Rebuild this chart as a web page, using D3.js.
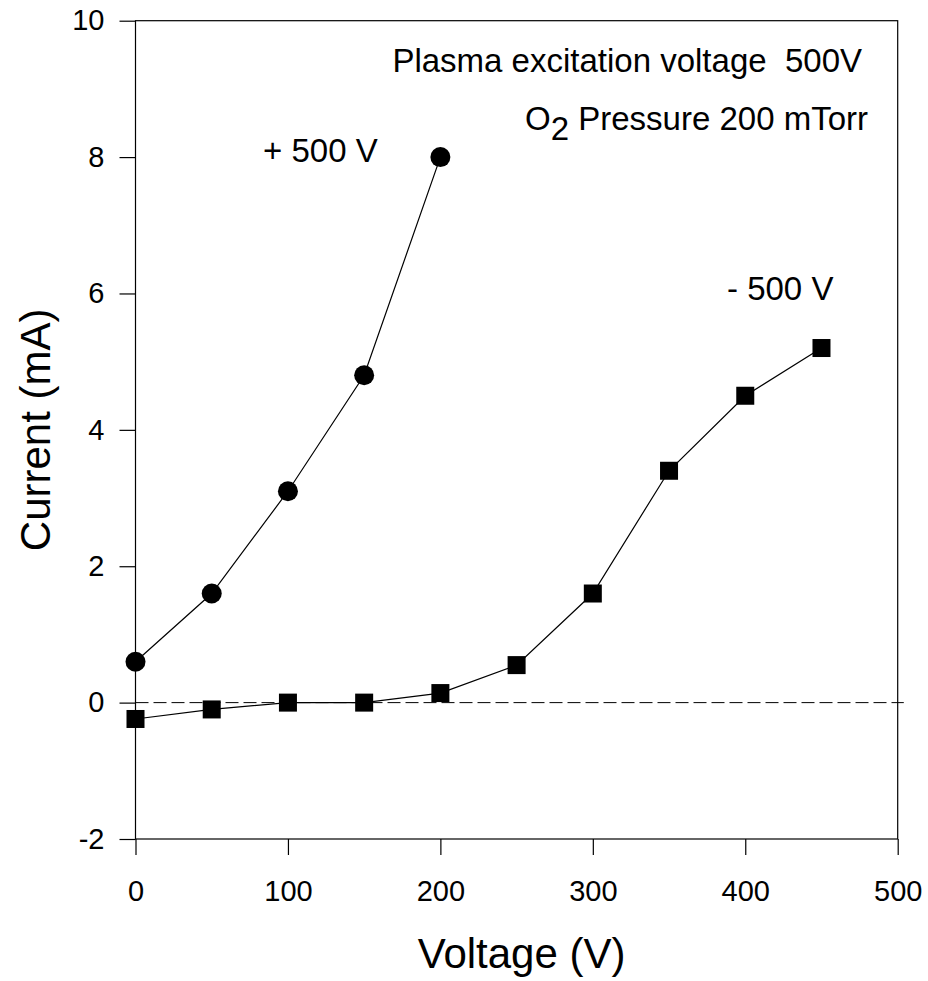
<!DOCTYPE html>
<meta charset="utf-8">
<style>

body {
  margin: 0;
  background: #fff;
}

text {
  font-family: "Liberation Sans", Arial, sans-serif;
  fill: #000;
}

.tick text {
  font-size: 29px;
}

.axis-title {
  font-size: 42px;
}

.note {
  font-size: 33px;
}

</style>
<svg width="928" height="981"></svg>
<script src="https://d3js.org/d3.v7.min.js"></script>
<script>

// +500 V bias (circles)
var posVoltage = [0, 50, 100, 150, 200],
    posCurrent = [0.6, 1.6, 3.1, 4.8, 8.0];

// -500 V bias (squares)
var negVoltage = [0, 50, 100, 150, 200, 250, 300, 350, 400, 450],
    negCurrent = [-0.24, -0.1, 0, 0, 0.14, 0.55, 1.6, 3.4, 4.5, 5.2];

var xTicks = [0, 100, 200, 300, 400, 500],
    yTicks = [-2, 0, 2, 4, 6, 8, 10];

var svg = d3.select("svg"),
    pLeft = 135.5, pRight = 897.7, pTop = 20.7, pBottom = 839;

var x = d3.scaleLinear().domain([0, 500]).range([pLeft, pRight]),
    y = d3.scaleLinear().domain([-2, 10]).range([pBottom, pTop]);

var pos = posVoltage.map(function(v, i) { return [v, posCurrent[i]]; }),
    neg = negVoltage.map(function(v, i) { return [v, negCurrent[i]]; });

var fmt = function(d) { return String(d); };  // plain hyphen for negatives

// frame
svg.append("rect")
    .attr("x", pLeft).attr("y", pTop)
    .attr("width", pRight - pLeft).attr("height", pBottom - pTop)
    .attr("fill", "none").attr("stroke", "#000").attr("stroke-width", 1.2);

svg.append("g")
    .attr("transform", "translate(0," + pBottom + ")")
    .call(d3.axisBottom(x).tickValues(xTicks).tickFormat(fmt)
      .tickSize(16).tickSizeOuter(0).tickPadding(25));

svg.append("g")
    .attr("transform", "translate(" + pLeft + ",0)")
    .call(d3.axisLeft(y).tickValues(yTicks).tickFormat(fmt)
      .tickSize(16).tickSizeOuter(0).tickPadding(15));

svg.selectAll(".domain").remove();
svg.selectAll(".tick line").attr("stroke", "#000").attr("stroke-width", 1.2);
svg.selectAll(".tick text").attr("font-family", null).attr("font-size", null);

// zero reference
svg.append("line")
    .attr("x1", x(0)).attr("x2", x(504))
    .attr("y1", y(0)).attr("y2", y(0))
    .attr("stroke", "#000").attr("stroke-width", 1)
    .attr("stroke-dasharray", "13,5");

var line = d3.line()
    .x(function(d) { return x(d[0]); })
    .y(function(d) { return y(d[1]); });

svg.append("path").datum(pos)
    .attr("d", line).attr("fill", "none").attr("stroke", "#000").attr("stroke-width", 1.2);
svg.append("path").datum(neg)
    .attr("d", line).attr("fill", "none").attr("stroke", "#000").attr("stroke-width", 1.2);

svg.selectAll(".pt").data(pos).enter().append("circle")
    .attr("cx", function(d) { return x(d[0]); })
    .attr("cy", function(d) { return y(d[1]); })
    .attr("r", 10)
    .attr("fill", "#000");

svg.selectAll(".sq").data(neg).enter().append("rect")
    .attr("x", function(d) { return x(d[0]) - 9; })
    .attr("y", function(d) { return y(d[1]) - 9; })
    .attr("width", 18).attr("height", 18)
    .attr("fill", "#000");

// labels
svg.append("text").attr("class", "note")
    .attr("x", 263).attr("y", 162).text("+ 500 V");
svg.append("text").attr("class", "note")
    .attr("x", 727).attr("y", 300).text("- 500 V");

svg.append("text").attr("class", "note")
    .attr("x", 862).attr("y", 72).attr("text-anchor", "end")
    .text("Plasma excitation voltage\u00a0\u00a0500V");

var t2 = svg.append("text").attr("class", "note")
    .attr("x", 868).attr("y", 130).attr("text-anchor", "end");
t2.append("tspan").text("O");
t2.append("tspan").attr("dy", 10).text("2");
t2.append("tspan").attr("dy", -10).text(" Pressure 200 mTorr");

svg.append("text").attr("class", "axis-title")
    .attr("x", (pLeft + pRight) / 2 + 5).attr("y", 968)
    .attr("text-anchor", "middle")
    .text("Voltage (V)");

svg.append("text").attr("class", "axis-title")
    .attr("transform", "translate(50," + (pTop + pBottom) / 2 + ") rotate(-90)")
    .attr("text-anchor", "middle")
    .text("Current (mA)");

</script>
